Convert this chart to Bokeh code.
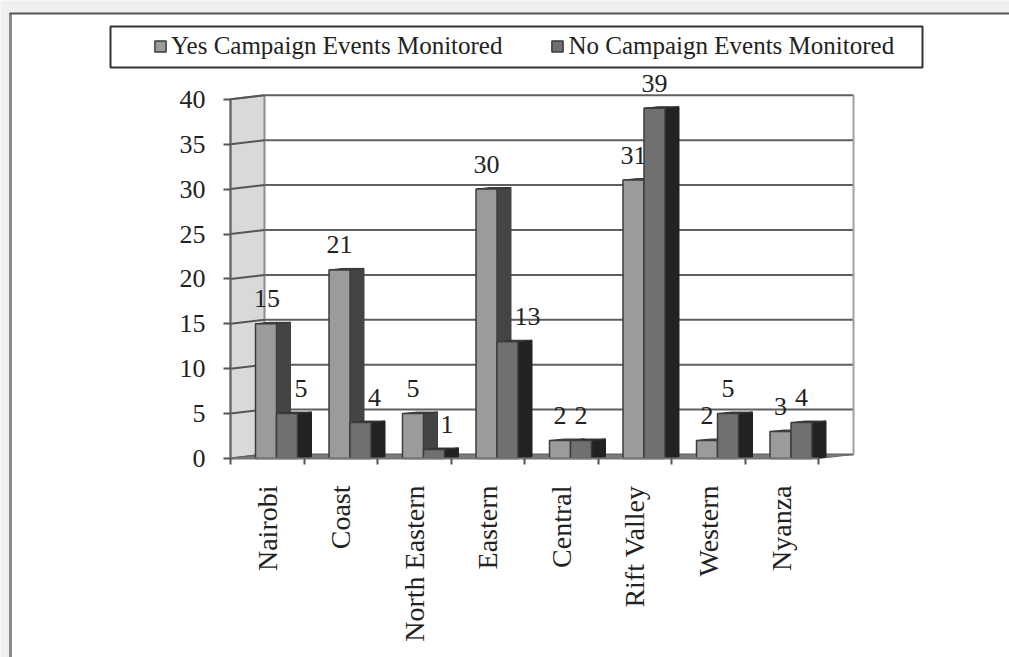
from math import pi

from bokeh.core.properties import value
from bokeh.embed import file_html
from bokeh.models import FixedTicker, Legend, LegendItem, LinearAxis, Range1d
from bokeh.plotting import figure
from bokeh.resources import INLINE

regions = ["Nairobi", "Coast", "North Eastern", "Eastern", "Central",
           "Rift Valley", "Western", "Nyanza"]
yes_events = [15, 21, 5, 30, 2, 31, 2, 3]
no_events = [5, 4, 1, 13, 2, 39, 5, 4]
y_ticks = [0, 5, 10, 15, 20, 25, 30, 35, 40]

# Screen layout: one category band is 73.5 px wide, one unit of value is just under 9 px.
WIDTH, HEIGHT = 1009, 657
BAND = 73.5
UNIT = 8.98
ORIGIN_X, ORIGIN_Y = 230, 458
FONT = "Liberation Serif"


def dx(px):
    return px / BAND


def dy(px):
    return px / UNIT


def sx(px):
    return (px - ORIGIN_X) / BAND


def sy(px):
    return (ORIGIN_Y - px) / UNIT


p = figure(width=WIDTH, height=HEIGHT, output_backend="svg", toolbar_location=None,
           x_range=Range1d(sx(0), sx(WIDTH)), y_range=Range1d(sy(HEIGHT), sy(0)),
           x_axis_type=None, y_axis_type=None, min_border=0,
           outline_line_color=None, background_fill_color="#f0f0f0",
           border_fill_color="#f0f0f0")
p.grid.visible = False

# Page panel with its heavy left and top rules
p.quad(left=[sx(10)], right=[sx(WIDTH + 5)], top=[sy(13)], bottom=[sy(HEIGHT + 5)],
       fill_color="#ffffff", line_color=None)
p.line([sx(10), sx(10)], [sy(13), sy(HEIGHT + 5)], line_color="#8a8a8a", line_width=3)
p.line([sx(9), sx(WIDTH + 5)], [sy(13), sy(13)], line_color="#555555", line_width=2)

# Frame around the legend entries
p.quad(left=[sx(110)], right=[sx(922)], top=[sy(26)], bottom=[sy(67)],
       fill_color="#ffffff", line_color="#333333", line_width=2)

# Side wall, back wall edge and floor of the 3-D box
DEPTH_X, DEPTH_Y = 34, 4
wall_right = 853
p.patch([sx(ORIGIN_X), sx(ORIGIN_X + DEPTH_X), sx(ORIGIN_X + DEPTH_X), sx(ORIGIN_X)],
        [0, dy(DEPTH_Y), 40 + dy(DEPTH_Y), 40],
        fill_color="#d9d9d9", line_color="#8c8c8c", line_width=2)
for tick in y_ticks:
    p.line([sx(ORIGIN_X), sx(ORIGIN_X + DEPTH_X)], [tick, tick + dy(DEPTH_Y)],
           line_color="#555555", line_width=2)
    p.line([sx(ORIGIN_X + DEPTH_X), sx(wall_right)], [tick + dy(DEPTH_Y), tick + dy(DEPTH_Y)],
           line_color="#5f5f5f", line_width=2)
p.line([sx(wall_right), sx(wall_right)], [dy(DEPTH_Y), 40 + dy(DEPTH_Y)],
       line_color="#a0a0a0", line_width=2)
p.patch([sx(ORIGIN_X), sx(ORIGIN_X + DEPTH_X), sx(wall_right), sx(818)],
        [0, dy(DEPTH_Y), dy(DEPTH_Y), 0], fill_color="#7c7c7c", line_color="#6a6a6a")

# Column geometry inside each band
YES_LEFT, BAR_W, BAR_DEPTH, BAR_RISE = 25, 21, 14, 1.5
NO_LEFT = YES_LEFT + BAR_W


def draw_columns(vals, left_px, front, side, top_col):
    xs = [i + dx(left_px) for i in range(len(vals))]
    right = [x + dx(BAR_W) for x in xs]
    shift_x, shift_y = dx(BAR_DEPTH), dy(BAR_RISE)
    p.patches([[r, r + shift_x, r + shift_x, r] for r in right],
              [[0, shift_y, v + shift_y, v] for v in vals],
              fill_color=side, line_color=side)
    p.patches([[x, x + shift_x, r + shift_x, r] for x, r in zip(xs, right)],
              [[v, v + shift_y, v + shift_y, v] for v in vals],
              fill_color=top_col, line_color="#333333")
    return p.vbar(x=[x + dx(BAR_W / 2) for x in xs], width=dx(BAR_W), bottom=0, top=vals,
                  fill_color=front, line_color="#3c3c3c", line_width=1.5)


def draw_labels(vals, left_px, shifts):
    p.text(x=[i + dx(left_px + BAR_W / 2 + s) for i, s in enumerate(shifts)],
           y=[v + dy(25) for v in vals], text=[str(v) for v in vals],
           text_align="center", text_baseline="middle", text_color="#222222",
           text_font=value(FONT), text_font_size="26px")


# The first series' labels sit beneath the second series' columns
yes_bars = draw_columns(yes_events, YES_LEFT, "#9b9b9b", "#444444", "#555555")
draw_labels(yes_events, YES_LEFT, [1, 0, 0, 0, 0, 0, 0, 0])
no_bars = draw_columns(no_events, NO_LEFT, "#707070", "#222222", "#2c2c2c")
draw_labels(no_events, NO_LEFT, [14, 14, 13, 20, 0, 0, 0, 0])

# Value axis
y_axis = LinearAxis(fixed_location=0, bounds=(0, 40), ticker=FixedTicker(ticks=y_ticks),
                    axis_line_color="#666666", axis_line_width=2,
                    major_tick_line_color="#555555", major_tick_line_width=2,
                    major_tick_in=0, major_tick_out=7, minor_tick_line_color=None,
                    major_label_standoff=18, major_label_text_font=FONT,
                    major_label_text_font_size="26px", major_label_text_color="#222222")
p.add_layout(y_axis, "left")

# Category axis: ticks on the band edges, names at the band centres
x_ticks = LinearAxis(fixed_location=0, bounds=(0, len(regions)),
                     ticker=FixedTicker(ticks=list(range(len(regions) + 1))),
                     axis_line_color="#777777", axis_line_width=2,
                     major_tick_line_color="#555555", major_tick_line_width=2,
                     major_tick_in=0, major_tick_out=6, minor_tick_line_color=None,
                     major_label_text_color=None)
p.add_layout(x_ticks, "below")
centres = [i + 0.5 for i in range(len(regions))]
x_names = LinearAxis(fixed_location=0, ticker=FixedTicker(ticks=centres),
                     major_label_overrides=dict(zip(centres, regions)),
                     major_label_orientation=pi / 2, major_label_standoff=21,
                     axis_line_color=None, major_tick_line_color=None,
                     minor_tick_line_color=None, major_label_text_font=FONT,
                     major_label_text_font_size="28px", major_label_text_color="#222222")
p.add_layout(x_names, "below")

legend = Legend(items=[LegendItem(label="Yes Campaign Events Monitored", renderers=[yes_bars]),
                       LegendItem(label="No Campaign Events Monitored", renderers=[no_bars])],
                orientation="horizontal", location=(153, 597), margin=0,
                padding=4, spacing=48, glyph_width=14, glyph_height=14, label_standoff=4,
                label_text_font=FONT, label_text_font_size="25px",
                label_text_color="#222222", border_line_color=None,
                background_fill_alpha=0)
p.add_layout(legend, "center")

open("out.html", "w").write(file_html(p, INLINE))
